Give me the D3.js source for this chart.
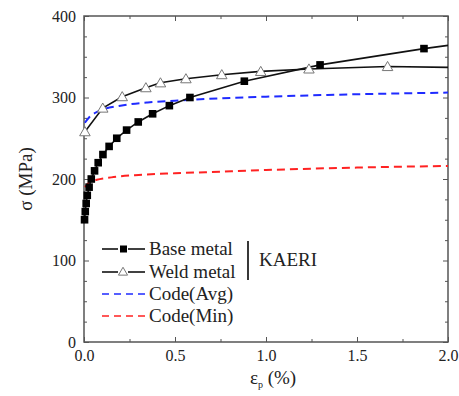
<!DOCTYPE html>
<html>
<head>
<meta charset="utf-8">
<script src="https://cdn.jsdelivr.net/npm/d3@7"></script>
<style>
  body { margin: 0; background: #fff; }
</style>
</head>
<body>
<script>
'use strict';

// strain (%) , stress (MPa)
var baseMetal = [
  [0.003, 150], [0.007, 160], [0.012, 170], [0.018, 180], [0.028, 190],
  [0.040, 200], [0.058, 210], [0.078, 220], [0.104, 230], [0.138, 240],
  [0.180, 250], [0.234, 260], [0.298, 270], [0.377, 280], [0.469, 290],
  [0.582, 300], [0.881, 320], [1.297, 340], [1.868, 360]
];
var baseMetalEnd = [2.0, 364];
var weldMetal = [
  [0.005, 258], [0.103, 287], [0.210, 301], [0.340, 312], [0.420, 318],
  [0.560, 323], [0.757, 328], [0.971, 332], [1.236, 335], [1.668, 338]
];
var weldMetalEnd = [2.0, 337];
var codeAvg = [
  [0.005, 269], [0.03, 276], [0.06, 281], [0.1, 285], [0.2, 290],
  [0.35, 294], [0.5, 296], [0.75, 299], [1.0, 301], [1.5, 304], [2.0, 306]
];
var codeMin = [
  [0.005, 190], [0.03, 196], [0.07, 199], [0.15, 202], [0.3, 205],
  [0.5, 207], [0.75, 209], [1.0, 211], [1.5, 214], [2.0, 216]
];
var xTicks = [0, 0.5, 1.0, 1.5, 2.0];
var yTicks = [0, 100, 200, 300, 400];
var legendItems = ["Base metal", "Weld metal", "Code(Avg)", "Code(Min)"];

var width = 459, height = 396;
var padL = 84, padR = 448, padT = 16, padB = 342;
var serif = "Liberation Serif";

var svg = d3.select("body").append("svg")
  .attr("width", width)
  .attr("height", height)
  .attr("font-family", serif);

var x = d3.scaleLinear().domain([0, 2]).range([padL, padR]);
var y = d3.scaleLinear().domain([0, 400]).range([padB, padT]);

// frame
svg.append("rect")
  .attr("x", padL).attr("y", padT)
  .attr("width", padR - padL).attr("height", padB - padT)
  .attr("fill", "none").attr("stroke", "#555").attr("stroke-width", 1.5);

// ticks (inward) on all sides
function tickSet(axisFn, scale, major, minor, pos, labels) {
  var g = svg.append("g").attr("transform", pos);
  g.call(axisFn(scale).tickValues(minor).tickSize(-3).tickFormat(""));
  var gm = svg.append("g").attr("transform", pos);
  gm.call(axisFn(scale).tickValues(major).tickSize(-5).tickPadding(8)
    .tickFormat(labels ? labels : ""));
  [g, gm].forEach(function (s) {
    s.attr("font-family", serif).attr("font-size", 16);
    s.select(".domain").remove();
    s.selectAll("line").attr("stroke", "#555").attr("stroke-width", 1);
    s.selectAll("text").attr("font-family", serif).attr("font-size", 16).attr("fill", "#222");
  });
  return gm;
}
var xMinor = d3.range(0.25, 2, 0.5);
var yMinor = d3.range(25, 400, 25).filter(function (v) { return v % 100 !== 0; });

tickSet(d3.axisBottom, x, xTicks, xMinor, "translate(0," + padB + ")", d3.format(".1f"));
tickSet(d3.axisTop, x, xTicks, xMinor, "translate(0," + padT + ")", null);
tickSet(d3.axisLeft, y, yTicks, yMinor, "translate(" + padL + ",0)", d3.format("d"));
tickSet(d3.axisRight, y, yTicks, yMinor, "translate(" + padR + ",0)", null);

var line = d3.line()
  .x(function (d) { return x(d[0]); })
  .y(function (d) { return y(d[1]); });
var smooth = d3.line()
  .x(function (d) { return x(d[0]); })
  .y(function (d) { return y(d[1]); })
  .curve(d3.curveMonotoneX);

svg.append("path").attr("d", smooth(codeAvg))
  .attr("fill", "none").attr("stroke", "#1f2bff").attr("stroke-width", 2)
  .attr("stroke-dasharray", "8,5");
svg.append("path").attr("d", smooth(codeMin))
  .attr("fill", "none").attr("stroke", "#ff2222").attr("stroke-width", 2)
  .attr("stroke-dasharray", "8,5");

svg.append("path").attr("d", line(weldMetal.concat([weldMetalEnd])))
  .attr("fill", "none").attr("stroke", "#111").attr("stroke-width", 1.6);
svg.append("path").attr("d", line(baseMetal.concat([baseMetalEnd])))
  .attr("fill", "none").attr("stroke", "#111").attr("stroke-width", 1.6);

var tri = d3.symbol().type(d3.symbolTriangle).size(48);
svg.append("g").selectAll("path").data(weldMetal).join("path")
  .attr("d", tri)
  .attr("transform", function (d) { return "translate(" + x(d[0]) + "," + (y(d[1]) + 1) + ")"; })
  .attr("fill", "#fff").attr("stroke", "#777").attr("stroke-width", 1);

svg.append("g").selectAll("rect").data(baseMetal).join("rect")
  .attr("x", function (d) { return x(d[0]) - 3.8; })
  .attr("y", function (d) { return y(d[1]) - 3.8; })
  .attr("width", 7.6).attr("height", 7.6)
  .attr("fill", "#000");

// legend
var lg = svg.append("g");
var ly = [249, 272, 294, 316];
legendItems.forEach(function (name, i) {
  var yy = ly[i];
  if (i < 2) {
    lg.append("line").attr("x1", 102).attr("x2", 118).attr("y1", yy).attr("y2", yy)
      .attr("stroke", "#111").attr("stroke-width", 1.6);
    lg.append("line").attr("x1", 128).attr("x2", 145).attr("y1", yy).attr("y2", yy)
      .attr("stroke", "#111").attr("stroke-width", 1.6);
    if (i === 0) {
      lg.append("rect").attr("x", 120).attr("y", yy - 3.5).attr("width", 7).attr("height", 7).attr("fill", "#000");
    } else {
      lg.append("path").attr("d", d3.symbol().type(d3.symbolTriangle).size(36))
        .attr("transform", "translate(123," + (yy + 0.5) + ")")
        .attr("fill", "#fff").attr("stroke", "#777");
    }
  } else {
    lg.append("line").attr("x1", 102).attr("x2", 145).attr("y1", yy).attr("y2", yy)
      .attr("stroke", i === 2 ? "#1f2bff" : "#ff2222").attr("stroke-width", 1.6)
      .attr("stroke-dasharray", "7,5");
  }
  lg.append("text").attr("x", 149).attr("y", yy + 6)
    .attr("font-family", serif).attr("font-size", 19).attr("fill", "#222").text(name);
});
lg.append("line").attr("x1", 248).attr("x2", 248).attr("y1", 241).attr("y2", 280)
  .attr("stroke", "#222").attr("stroke-width", 1.8);
lg.append("text").attr("x", 259).attr("y", 266)
  .attr("font-family", serif).attr("font-size", 19).attr("fill", "#222").text("KAERI");

// axis titles
var xt = svg.append("text").attr("x", 273).attr("y", 384)
  .attr("text-anchor", "middle").attr("font-family", serif)
  .attr("font-size", 19).attr("fill", "#222");
xt.append("tspan").text("ε");
xt.append("tspan").attr("font-size", 10).attr("dy", 4).text("p");
xt.append("tspan").attr("dy", -4).text(" (%)");

svg.append("text")
  .attr("transform", "translate(32," + ((padT + padB) / 2) + ") rotate(-90)")
  .attr("text-anchor", "middle").attr("font-family", serif)
  .attr("font-size", 19).attr("fill", "#222")
  .text("σ (MPa)");
</script>
</body>
</html>
